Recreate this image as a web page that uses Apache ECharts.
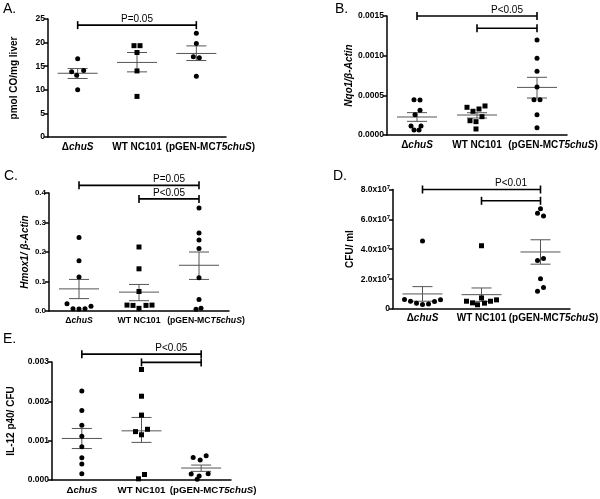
<!DOCTYPE html>
<html><head><meta charset="utf-8">
<script src="https://cdn.jsdelivr.net/npm/echarts@6/dist/echarts.min.js"></script>
<style>html,body{margin:0;padding:0;background:#fff}#c{width:600px;height:499px}</style>
</head><body><div id="c"></div>
<script>
// ---------- data ----------
const categories = ['ΔchuS', 'WT NC101', '(pGEN-MCT5chuS)'];

// Panel A: pmol CO/mg liver
const aDelta = [16.6, 13.8, 14.1, 13.1, 10.0];
const aWT = [19.35, 19.35, 17.9, 14.0, 8.6];
const aPGEN = [22.0, 19.8, 17.0, 16.8, 12.85];
const aMean = [13.5, 15.8, 17.7];
const aSemLow = [12.4, 13.8, 16.2];
const aSemHigh = [14.5, 17.9, 19.3];
const aTicks = [0, 5, 10, 15, 20, 25];

// Panel B: Nqo1/β-Actin
const bDelta = [0.000445, 0.000441, 0.000311, 0.000256, 0.000113, 0.000113, 0.000063, 0.000063];
const bWT = [0.000349, 0.000299, 0.000328, 0.000366, 0.000180, 0.000168, 0.000231, 0.000076];
const bPGEN = [0.001197, 0.000966, 0.000803, 0.000605, 0.000445, 0.000445, 0.000256, 0.000092];
const bMean = [0.000227, 0.000252, 0.000600];
const bSemLow = [0.000172, 0.000214, 0.000466];
const bSemHigh = [0.000282, 0.000281, 0.000727];
const bTicks = [0, 0.0005, 0.0010, 0.0015];

// Panel C: Hmox1/β-Actin
const cDelta = [0.249, 0.170, 0.115, 0.025, 0.008, 0.007, 0.008, 0.016];
const cWT = [0.217, 0.143, 0.066, 0.020, 0.019, 0.009, 0.019, 0.020];
const cPGEN = [0.349, 0.264, 0.241, 0.212, 0.113, 0.039, 0.006, 0.009];
const cMean = [0.075, 0.064, 0.155];
const cSemLow = [0.042, 0.035, 0.107];
const cSemHigh = [0.107, 0.090, 0.200];
const cTicks = [0, 0.1, 0.2, 0.3, 0.4];

// Panel D: CFU/ ml
const dDelta = [4.53e7, 0.60e7, 0.49e7, 0.36e7, 0.27e7, 0.31e7, 0.47e7, 0.58e7];
const dWT = [4.22e7, 0.49e7, 0.38e7, 0.25e7, 0.71e7, 0.36e7, 0.49e7, 0.58e7];
const dPGEN = [6.71e7, 6.40e7, 6.22e7, 3.22e7, 3.36e7, 2.00e7, 1.16e7, 1.42e7];
const dMean = [0.98e7, 0.93e7, 3.80e7];
const dSemLow = [0.49e7, 0.48e7, 2.98e7];
const dSemHigh = [1.47e7, 1.38e7, 4.62e7];
const dTicks = [0, 2e7, 4e7, 6e7, 8e7];

// Panel E: IL-12 p40/ CFU
const eDelta = [0.002265, 0.001766, 0.001394, 0.001115, 0.000845, 0.000566, 0.000406, 0.000160];
const eWT = [0.00281, 0.00213, 0.00165, 0.00123, 0.00129, 0.00115, 0.00003, 0.00014];
const ePGEN = [0.000575, 0.000507, 0.000616, 0.000152, 0.000160, 0.000100, 0.000020];
const eMean = [0.001056, 0.001250, 0.000304];
const eSemLow = [0.000800, 0.000956, 0.000220];
const eSemHigh = [0.001310, 0.001590, 0.000380];
const eTicks = [0, 0.001, 0.002, 0.003];

// significance brackets: [fromCategory, toCategory, yValue]
const aBrackets = [[0, 2, 23.7]];
const bBrackets = [[0, 2, 0.0015], [1, 2, 0.001345]];
const cBrackets = [[0, 2, 0.426], [1, 2, 0.380]];
const dBrackets = [[0, 2, 8e7], [1, 2, 7.24e7]];
const eBrackets = [[0, 2, 0.0032], [1, 2, 0.00299]];
// p-value labels: [text, fromCategory, toCategory, yValue]
const aPLabels = [['P=0.05', 0, 2, 23.7]];
const bPLabels = [['P<0.05', 1, 2, 0.0015]];
const cPLabels = [['P=0.05', 1, 2, 0.426], ['P<0.05', 1, 2, 0.380]];
const dPLabels = [['P<0.01', 1, 2, 8e7]];
const ePLabels = [['P<0.05', 1, 2, 0.0032]];

// ---------- layout / style (not data) ----------
const FF = '"Liberation Sans", Arial, sans-serif';
const jitter = {
  A: [[0, -6, 6, -1, 0], [-3, 3, 0, 0, 0], [0, 0, -3, 3, 0]],
  B: [[-3, 3, 3, -2, -6, 4, -3, 2], [-10, -4, 2, 8, -7, -1, 5, -1], [0, 0, 0, 0, -3, 3, 0, 0]],
  C: [[0, 0, 0, -12, -6, 0, 6, 12], [0, 0, 0, -12, -6, 0, 7, 13], [0, 0, 0, 0, 0, 0, -3, 2]],
  D: [[0, -18, -12, -6, 0, 6, 12, 18], [0, -15, -9, -4, 0, 3, 9, 15], [0, -3, 3, -3, 3, 0, -3, 3]],
  E: [[0, 0, 0, 0, 0, 0, 0, 0], [0, 0, 0, -6, 6, 0, -3, 3], [-8, -1, 5, -10, 7, -2, -4]]
};

const panels = [
  {key: 'A', grid: {left: 48, top: 19, width: 178, height: 118}, ticks: aTicks,
   groups: [aDelta, aWT, aPGEN], mean: aMean, lo: aSemLow, hi: aSemHigh,
   brackets: aBrackets, plabels: aPLabels, name: 'pmol CO/mg liver', italic: false, nameGap: 29,
   fmt: v => String(v), letter: {left: 3, top: 2}, catFont: 10, tickFont: 8.5, shift: 28},
  {key: 'B', grid: {left: 387, top: 16, width: 180, height: 119}, ticks: bTicks,
   groups: [bDelta, bWT, bPGEN], mean: bMean, lo: bSemLow, hi: bSemHigh,
   brackets: bBrackets, plabels: bPLabels, name: 'Nqo1/β-Actin', italic: true, nameGap: 33,
   fmt: v => v.toFixed(4), letter: {left: 335, top: 2}, catFont: 10, tickFont: 8.5, shift: 32},
  {key: 'C', grid: {left: 49, top: 193, width: 180, height: 118}, ticks: cTicks,
   groups: [cDelta, cWT, cPGEN], mean: cMean, lo: cSemLow, hi: cSemHigh,
   brackets: cBrackets, plabels: cPLabels, name: 'Hmox1/ β-Actin', italic: true, nameGap: 19,
   fmt: v => v.toFixed(1), letter: {left: 4, top: 169}, catFont: 8.7, tickFont: 8, shift: 14},
  {key: 'D', grid: {left: 393, top: 189.5, width: 177, height: 119}, ticks: dTicks,
   groups: [dDelta, dWT, dPGEN], mean: dMean, lo: dSemLow, hi: dSemHigh,
   brackets: dBrackets, plabels: dPLabels, name: 'CFU/ ml', italic: false, nameGap: 38,
   fmt: v => v === 0 ? '{n|0}' : '{n|' + (v / 1e7).toFixed(1) + 'x10}{s|7}', letter: {left: 333, top: 169},
   catFont: 10, tickFont: 8.5, shift: 26},
  {key: 'E', grid: {left: 52, top: 362, width: 179, height: 118}, ticks: eTicks,
   groups: [eDelta, eWT, ePGEN], mean: eMean, lo: eSemLow, hi: eSemHigh,
   brackets: eBrackets, plabels: ePLabels, name: 'IL-12 p40/ CFU', italic: false, nameGap: 36,
   fmt: v => v.toFixed(3), letter: {left: 3, top: 332}, catFont: 9.7, tickFont: 8.5, shift: 24}
];

const catRich = {
  'ΔchuS': '{b|Δ}{bi|chuS}',
  'WT NC101': '{b|WT NC101}',
  '(pGEN-MCT5chuS)': '{sp|}{b|(pGEN-MC}{bi|T5chuS}{b|)}'
};

const option = {
  animation: false,
  backgroundColor: '#fff',
  title: [], grid: [], xAxis: [], yAxis: [], series: []
};

panels.forEach((p, i) => {
  option.title.push({text: p.key + '.', left: p.letter.left, top: p.letter.top, padding: 0,
    textStyle: {fontSize: 14, fontWeight: 'normal', fontFamily: FF, color: '#000'}});
  option.grid.push(Object.assign({outerBoundsMode: 'none', containLabel: false}, p.grid));
  option.xAxis.push({
    type: 'category', gridIndex: i, data: categories, boundaryGap: true,
    axisLine: {lineStyle: {color: '#000', width: 1.5}},
    axisTick: {alignWithLabel: true, length: 4, lineStyle: {color: '#000', width: 1.5}},
    axisLabel: {interval: 0, margin: 5, formatter: v => catRich[v],
      rich: {b: {fontSize: p.catFont, fontWeight: 'bold', fontFamily: FF, color: '#000'},
             bi: {fontSize: p.catFont, fontWeight: 'bold', fontStyle: 'italic', fontFamily: FF, color: '#000'},
             sp: {width: p.shift, fontSize: p.catFont}}},
    splitLine: {show: false}
  });
  const step = p.ticks[1] - p.ticks[0];
  option.yAxis.push({
    type: 'value', gridIndex: i, min: p.ticks[0], max: p.ticks[p.ticks.length - 1], interval: step,
    name: p.name, nameLocation: 'middle', nameGap: p.nameGap,
    nameTextStyle: {fontSize: 10, fontWeight: 'bold', fontStyle: p.italic ? 'italic' : 'normal', fontFamily: FF, color: '#000'},
    axisLine: {show: true, lineStyle: {color: '#000', width: 1.5}},
    axisTick: {show: true, length: 4, lineStyle: {color: '#000', width: 1.5}},
    axisLabel: {margin: 3, fontSize: p.tickFont, fontWeight: 'bold', fontFamily: FF, color: '#000',
      formatter: p.fmt,
      rich: {n: {fontSize: p.tickFont, fontWeight: 'bold', fontFamily: FF, color: '#000', verticalAlign: 'bottom'},
             s: {fontSize: 6, fontWeight: 'bold', fontFamily: FF, color: '#000', verticalAlign: 'top', padding: [0, 0, 4, 0]}}},
    splitLine: {show: false}
  });

  // mean ± SEM
  option.series.push({
    type: 'custom', xAxisIndex: i, yAxisIndex: i, z: 2, silent: true,
    data: p.mean.map((m, g) => [g, m, p.lo[g], p.hi[g]]),
    renderItem: (params, api) => {
      const c = api.value(0);
      const m = api.coord([c, api.value(1)]);
      const lo = api.coord([c, api.value(2)]);
      const hi = api.coord([c, api.value(3)]);
      const st = {stroke: '#555', lineWidth: 1};
      return {type: 'group', children: [
        {type: 'line', shape: {x1: m[0] - 20, y1: m[1], x2: m[0] + 20, y2: m[1]}, style: st},
        {type: 'line', shape: {x1: m[0] - 10, y1: lo[1], x2: m[0] + 10, y2: lo[1]}, style: st},
        {type: 'line', shape: {x1: m[0] - 10, y1: hi[1], x2: m[0] + 10, y2: hi[1]}, style: st},
        {type: 'line', shape: {x1: m[0], y1: lo[1], x2: m[0], y2: hi[1]}, style: st}
      ]};
    }
  });

  // points
  p.groups.forEach((vals, g) => {
    option.series.push({
      type: 'scatter', xAxisIndex: i, yAxisIndex: i, z: 3, silent: true, clip: false,
      symbol: g === 1 ? 'rect' : 'circle', symbolSize: 5,
      itemStyle: {color: '#000', opacity: 1},
      data: vals.map((v, k) => ({value: [g, v], symbolOffset: [jitter[p.key][g][k] || 0, 0]}))
    });
  });

  // brackets
  option.series.push({
    type: 'custom', xAxisIndex: i, yAxisIndex: i, z: 4, silent: true, clip: false,
    data: p.brackets,
    renderItem: (params, api) => {
      const a = api.coord([api.value(0), api.value(2)]);
      const b = api.coord([api.value(1), api.value(2)]);
      const st = {stroke: '#000', lineWidth: 1.6};
      return {type: 'group', children: [
        {type: 'line', shape: {x1: a[0], y1: a[1], x2: b[0], y2: b[1]}, style: st},
        {type: 'line', shape: {x1: a[0], y1: a[1] - 4, x2: a[0], y2: a[1] + 4}, style: st},
        {type: 'line', shape: {x1: b[0], y1: b[1] - 4, x2: b[0], y2: b[1] + 4}, style: st}
      ]};
    }
  });

  // p-value labels
  const labelTexts = p.plabels.map(l => l[0]);
  option.series.push({
    type: 'custom', xAxisIndex: i, yAxisIndex: i, z: 4, silent: true, clip: false,
    data: p.plabels.map(l => [l[1], l[2], l[3]]),
    renderItem: (params, api) => {
      const a = api.coord([api.value(0), api.value(2)]);
      const b = api.coord([api.value(1), api.value(2)]);
      return {type: 'text', x: (a[0] + b[0]) / 2, y: a[1] - 1,
        style: {text: labelTexts[params.dataIndex], fontSize: 10, fontFamily: FF, fill: '#000',
                align: 'center', verticalAlign: 'bottom'}};
    }
  });
});

const chart = echarts.init(document.getElementById('c'), null, {renderer: 'canvas'});
chart.setOption(option);
</script>
</body></html>
